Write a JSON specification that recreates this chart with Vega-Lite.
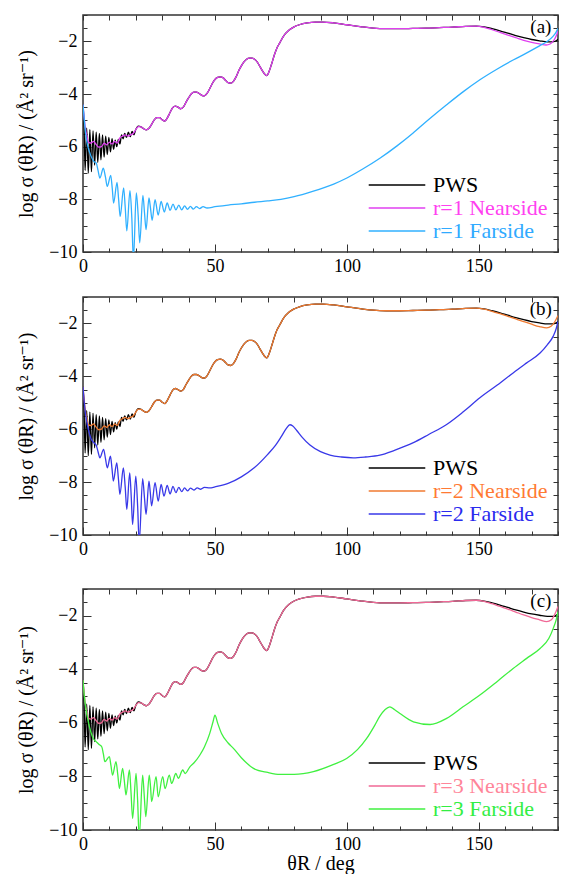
{
"$schema": "https://vega.github.io/schema/vega-lite/v6.json",
"background": "white",
"padding": {"left": 16, "top": 13, "right": 3, "bottom": 0},
"config": {
  "font": "Liberation Serif, Times New Roman, DejaVu Serif, serif",
  "view": {"stroke": "#333333", "strokeWidth": 1.5},
  "text": {"font": "Liberation Serif, Times New Roman, DejaVu Serif, serif"},
  "axis": {"labelFont": "Liberation Serif, Times New Roman, DejaVu Serif, serif", "labelFontSize": 18, "labelColor": "#000000", "titleFont": "Liberation Serif, Times New Roman, DejaVu Serif, serif", "titleFontSize": 20, "titleFontWeight": "normal", "titleColor": "#000000", "grid": false, "domain": false, "tickColor": "#333333", "tickWidth": 1, "labelFlush": false},
  "legend": {"orient": "bottom-right", "offset": 10, "symbolType": "M-4,0H4", "symbolSize": 200, "symbolStrokeWidth": 1.5, "labelFontSize": 22, "labelFont": "Liberation Serif, Times New Roman, DejaVu Serif, serif", "labelOffset": 25, "rowPadding": 1, "padding": 0, "labelLimit": 300}
},
"datasets": {
"pws": [{"t":0,"v":-4.4},{"t":0.4,"v":-5.2},{"t":0.8,"v":-6.9},{"t":1.4,"v":-5.3},{"t":2.0,"v":-7.0},{"t":2.6,"v":-5.35},{"t":3.2,"v":-6.95},{"t":3.8,"v":-5.4},{"t":4.4,"v":-6.7},{"t":5.0,"v":-5.45},{"t":5.6,"v":-6.6},{"t":6.2,"v":-5.5},{"t":6.8,"v":-6.5},{"t":7.4,"v":-5.55},{"t":8.0,"v":-6.4},{"t":8.6,"v":-5.6},{"t":9.2,"v":-6.3},{"t":9.8,"v":-5.65},{"t":10.4,"v":-6.2},{"t":11.0,"v":-5.7},{"t":11.6,"v":-6.1},{"t":12.2,"v":-5.75},{"t":12.8,"v":-6.0},{"t":13.4,"v":-5.72},{"t":14.0,"v":-5.9},{"t":14.6,"v":-5.55},{"t":15.2,"v":-5.7},{"t":15.8,"v":-5.5},{"t":16.5,"v":-5.65},{"t":17.2,"v":-5.45},{"t":17.9,"v":-5.62},{"t":18.6,"v":-5.42},{"t":19.3,"v":-5.55},{"t":20,"v":-5.35},{"t":21,"v":-5.22},{"t":22,"v":-5.25},{"t":23,"v":-5.32},{"t":24,"v":-5.36},{"t":25,"v":-5.3},{"t":26,"v":-5.15},{"t":27,"v":-4.98},{"t":28,"v":-4.9},{"t":29,"v":-4.9},{"t":30,"v":-4.98},{"t":31,"v":-5.03},{"t":32,"v":-4.9},{"t":33,"v":-4.7},{"t":34,"v":-4.52},{"t":35,"v":-4.46},{"t":36,"v":-4.5},{"t":37,"v":-4.56},{"t":38,"v":-4.5},{"t":39,"v":-4.32},{"t":40,"v":-4.15},{"t":41,"v":-4.0},{"t":42,"v":-3.93},{"t":43,"v":-3.93},{"t":44,"v":-3.98},{"t":45,"v":-4.05},{"t":46,"v":-4.07},{"t":47,"v":-3.98},{"t":48,"v":-3.8},{"t":49,"v":-3.6},{"t":50,"v":-3.45},{"t":51,"v":-3.37},{"t":52,"v":-3.35},{"t":53,"v":-3.38},{"t":54,"v":-3.48},{"t":55,"v":-3.57},{"t":56,"v":-3.59},{"t":57,"v":-3.52},{"t":58,"v":-3.35},{"t":59,"v":-3.12},{"t":60,"v":-2.93},{"t":61,"v":-2.78},{"t":62,"v":-2.68},{"t":63,"v":-2.64},{"t":64,"v":-2.64},{"t":65,"v":-2.68},{"t":66,"v":-2.78},{"t":67,"v":-2.95},{"t":68,"v":-3.12},{"t":69,"v":-3.26},{"t":69.7,"v":-3.3},{"t":70.5,"v":-3.15},{"t":71.5,"v":-2.85},{"t":72.5,"v":-2.52},{"t":73.5,"v":-2.25},{"t":74.6,"v":-2.05},{"t":76,"v":-1.8},{"t":78,"v":-1.58},{"t":80,"v":-1.45},{"t":82,"v":-1.37},{"t":85,"v":-1.3},{"t":88,"v":-1.27},{"t":91,"v":-1.27},{"t":95,"v":-1.3},{"t":100,"v":-1.37},{"t":105,"v":-1.44},{"t":110,"v":-1.5},{"t":115,"v":-1.52},{"t":120,"v":-1.52},{"t":125,"v":-1.51},{"t":130,"v":-1.5},{"t":135,"v":-1.48},{"t":140,"v":-1.46},{"t":145,"v":-1.43},{"t":149,"v":-1.42},{"t":152,"v":-1.45},{"t":155,"v":-1.52},{"t":158,"v":-1.6},{"t":161,"v":-1.69},{"t":164,"v":-1.78},{"t":167,"v":-1.86},{"t":170,"v":-1.93},{"t":173,"v":-1.98},{"t":176,"v":-2.02},{"t":178,"v":-2.02},{"t":179.3,"v":-1.98},{"t":180,"v":-1.92}],
"n1": [{"t":0,"v":-4.4},{"t":0.5,"v":-4.95},{"t":1,"v":-5.35},{"t":1.5,"v":-5.6},{"t":2,"v":-5.82},{"t":3,"v":-5.86},{"t":4,"v":-5.8},{"t":5,"v":-5.92},{"t":6,"v":-6.02},{"t":7,"v":-6.0},{"t":8,"v":-5.87},{"t":9,"v":-5.93},{"t":10,"v":-5.83},{"t":11,"v":-5.9},{"t":12,"v":-5.8},{"t":13,"v":-5.86},{"t":14,"v":-5.66},{"t":15,"v":-5.6},{"t":16,"v":-5.55},{"t":17,"v":-5.6},{"t":18,"v":-5.55},{"t":19,"v":-5.5},{"t":20,"v":-5.35},{"t":21,"v":-5.24},{"t":22,"v":-5.25},{"t":23,"v":-5.32},{"t":24,"v":-5.36},{"t":25,"v":-5.3},{"t":26,"v":-5.15},{"t":27,"v":-4.98},{"t":28,"v":-4.9},{"t":29,"v":-4.9},{"t":30,"v":-4.98},{"t":31,"v":-5.03},{"t":32,"v":-4.9},{"t":33,"v":-4.7},{"t":34,"v":-4.52},{"t":35,"v":-4.46},{"t":36,"v":-4.5},{"t":37,"v":-4.56},{"t":38,"v":-4.5},{"t":39,"v":-4.32},{"t":40,"v":-4.15},{"t":41,"v":-4.0},{"t":42,"v":-3.93},{"t":43,"v":-3.93},{"t":44,"v":-3.98},{"t":45,"v":-4.05},{"t":46,"v":-4.07},{"t":47,"v":-3.98},{"t":48,"v":-3.8},{"t":49,"v":-3.6},{"t":50,"v":-3.45},{"t":51,"v":-3.37},{"t":52,"v":-3.35},{"t":53,"v":-3.38},{"t":54,"v":-3.48},{"t":55,"v":-3.57},{"t":56,"v":-3.59},{"t":57,"v":-3.52},{"t":58,"v":-3.35},{"t":59,"v":-3.12},{"t":60,"v":-2.93},{"t":61,"v":-2.78},{"t":62,"v":-2.68},{"t":63,"v":-2.64},{"t":64,"v":-2.64},{"t":65,"v":-2.68},{"t":66,"v":-2.78},{"t":67,"v":-2.95},{"t":68,"v":-3.12},{"t":69,"v":-3.26},{"t":69.7,"v":-3.3},{"t":70.5,"v":-3.15},{"t":71.5,"v":-2.85},{"t":72.5,"v":-2.52},{"t":73.5,"v":-2.25},{"t":74.6,"v":-2.05},{"t":76,"v":-1.8},{"t":78,"v":-1.58},{"t":80,"v":-1.45},{"t":82,"v":-1.37},{"t":85,"v":-1.3},{"t":88,"v":-1.27},{"t":91,"v":-1.27},{"t":95,"v":-1.3},{"t":100,"v":-1.37},{"t":105,"v":-1.44},{"t":110,"v":-1.5},{"t":115,"v":-1.52},{"t":120,"v":-1.52},{"t":125,"v":-1.51},{"t":130,"v":-1.5},{"t":135,"v":-1.48},{"t":140,"v":-1.46},{"t":145,"v":-1.43},{"t":149,"v":-1.42},{"t":152,"v":-1.47},{"t":155,"v":-1.56},{"t":158,"v":-1.66},{"t":161,"v":-1.76},{"t":164,"v":-1.86},{"t":167,"v":-1.96},{"t":170,"v":-2.04},{"t":173,"v":-2.1},{"t":175.5,"v":-2.14},{"t":177,"v":-2.1},{"t":178.5,"v":-1.95},{"t":179.5,"v":-1.75},{"t":180,"v":-1.6}],
"f1": [{"t":0,"v":-4.4},{"t":0.5,"v":-5.0},{"t":1,"v":-5.5},{"t":1.5,"v":-5.85},{"t":2,"v":-6.05},{"t":3,"v":-6.35},{"t":4,"v":-6.55},{"t":5,"v":-6.62},{"t":5.7,"v":-6.9},{"t":6.4,"v":-7.19},{"t":7.7,"v":-6.82},{"t":8.5,"v":-7.15},{"t":9.2,"v":-7.51},{"t":10.5,"v":-7.09},{"t":11.1,"v":-7.6},{"t":11.6,"v":-8.14},{"t":12.9,"v":-7.36},{"t":13.5,"v":-8.0},{"t":14.1,"v":-8.65},{"t":15.4,"v":-7.57},{"t":16.0,"v":-8.3},{"t":16.6,"v":-9.2},{"t":17.8,"v":-7.67},{"t":18.5,"v":-8.7},{"t":19.1,"v":-10.3},{"t":20.2,"v":-7.76},{"t":20.9,"v":-8.6},{"t":21.5,"v":-9.65},{"t":22.7,"v":-7.85},{"t":23.3,"v":-8.5},{"t":23.9,"v":-9.15},{"t":25.0,"v":-7.95},{"t":25.6,"v":-8.35},{"t":26.2,"v":-8.8},{"t":27.3,"v":-8.01},{"t":28.5,"v":-8.6},{"t":29.6,"v":-8.08},{"t":30.8,"v":-8.48},{"t":31.9,"v":-8.14},{"t":33.0,"v":-8.42},{"t":34.1,"v":-8.18},{"t":35.2,"v":-8.4},{"t":36.3,"v":-8.22},{"t":37.4,"v":-8.4},{"t":38.5,"v":-8.25},{"t":39.6,"v":-8.38},{"t":40.7,"v":-8.27},{"t":41.8,"v":-8.37},{"t":43,"v":-8.28},{"t":44.2,"v":-8.35},{"t":45.5,"v":-8.28},{"t":47,"v":-8.33},{"t":50,"v":-8.28},{"t":55,"v":-8.22},{"t":60,"v":-8.17},{"t":65,"v":-8.11},{"t":70,"v":-8.06},{"t":75,"v":-8.0},{"t":80,"v":-7.9},{"t":87,"v":-7.7},{"t":95,"v":-7.42},{"t":100,"v":-7.19},{"t":106,"v":-6.85},{"t":112.5,"v":-6.44},{"t":119,"v":-5.97},{"t":125,"v":-5.49},{"t":131,"v":-4.97},{"t":137.8,"v":-4.41},{"t":144,"v":-3.92},{"t":150.4,"v":-3.46},{"t":157,"v":-3.05},{"t":163,"v":-2.71},{"t":168,"v":-2.45},{"t":173,"v":-2.17},{"t":176,"v":-2.0},{"t":178,"v":-1.82},{"t":179.3,"v":-1.65},{"t":180,"v":-1.5}],
"n2": [{"t":0,"v":-4.4},{"t":0.5,"v":-4.95},{"t":1,"v":-5.35},{"t":1.5,"v":-5.6},{"t":2,"v":-5.82},{"t":3,"v":-5.86},{"t":4,"v":-5.8},{"t":5,"v":-5.92},{"t":6,"v":-6.02},{"t":7,"v":-6.0},{"t":8,"v":-5.87},{"t":9,"v":-5.93},{"t":10,"v":-5.83},{"t":11,"v":-5.9},{"t":12,"v":-5.8},{"t":13,"v":-5.86},{"t":14,"v":-5.66},{"t":15,"v":-5.6},{"t":16,"v":-5.55},{"t":17,"v":-5.6},{"t":18,"v":-5.55},{"t":19,"v":-5.5},{"t":20,"v":-5.35},{"t":21,"v":-5.24},{"t":22,"v":-5.25},{"t":23,"v":-5.32},{"t":24,"v":-5.36},{"t":25,"v":-5.3},{"t":26,"v":-5.15},{"t":27,"v":-4.98},{"t":28,"v":-4.9},{"t":29,"v":-4.9},{"t":30,"v":-4.98},{"t":31,"v":-5.03},{"t":32,"v":-4.9},{"t":33,"v":-4.7},{"t":34,"v":-4.52},{"t":35,"v":-4.46},{"t":36,"v":-4.5},{"t":37,"v":-4.56},{"t":38,"v":-4.5},{"t":39,"v":-4.32},{"t":40,"v":-4.15},{"t":41,"v":-4.0},{"t":42,"v":-3.93},{"t":43,"v":-3.93},{"t":44,"v":-3.98},{"t":45,"v":-4.05},{"t":46,"v":-4.07},{"t":47,"v":-3.98},{"t":48,"v":-3.8},{"t":49,"v":-3.6},{"t":50,"v":-3.45},{"t":51,"v":-3.37},{"t":52,"v":-3.35},{"t":53,"v":-3.38},{"t":54,"v":-3.48},{"t":55,"v":-3.57},{"t":56,"v":-3.59},{"t":57,"v":-3.52},{"t":58,"v":-3.35},{"t":59,"v":-3.12},{"t":60,"v":-2.93},{"t":61,"v":-2.78},{"t":62,"v":-2.68},{"t":63,"v":-2.64},{"t":64,"v":-2.64},{"t":65,"v":-2.68},{"t":66,"v":-2.78},{"t":67,"v":-2.95},{"t":68,"v":-3.12},{"t":69,"v":-3.26},{"t":69.7,"v":-3.3},{"t":70.5,"v":-3.15},{"t":71.5,"v":-2.85},{"t":72.5,"v":-2.52},{"t":73.5,"v":-2.25},{"t":74.6,"v":-2.05},{"t":76,"v":-1.8},{"t":78,"v":-1.58},{"t":80,"v":-1.45},{"t":82,"v":-1.37},{"t":85,"v":-1.3},{"t":88,"v":-1.27},{"t":91,"v":-1.27},{"t":95,"v":-1.3},{"t":100,"v":-1.37},{"t":105,"v":-1.44},{"t":110,"v":-1.5},{"t":115,"v":-1.52},{"t":120,"v":-1.52},{"t":125,"v":-1.51},{"t":130,"v":-1.5},{"t":135,"v":-1.48},{"t":140,"v":-1.46},{"t":145,"v":-1.43},{"t":149,"v":-1.42},{"t":152,"v":-1.46},{"t":155,"v":-1.54},{"t":158,"v":-1.63},{"t":161,"v":-1.73},{"t":164,"v":-1.83},{"t":167,"v":-1.93},{"t":170,"v":-2.03},{"t":173,"v":-2.12},{"t":175.7,"v":-2.17},{"t":177.5,"v":-2.1},{"t":179,"v":-1.9},{"t":180,"v":-1.7}],
"f2": [{"t":0,"v":-4.4},{"t":0.5,"v":-5.0},{"t":1,"v":-5.45},{"t":2,"v":-6.0},{"t":3,"v":-6.35},{"t":4,"v":-6.5},{"t":5,"v":-6.6},{"t":5.7,"v":-6.85},{"t":6.4,"v":-7.08},{"t":7.8,"v":-6.76},{"t":8.5,"v":-7.1},{"t":9.2,"v":-7.46},{"t":10.4,"v":-7.02},{"t":11.0,"v":-7.5},{"t":11.5,"v":-7.96},{"t":12.8,"v":-7.27},{"t":13.4,"v":-7.85},{"t":14.0,"v":-8.46},{"t":15.3,"v":-7.46},{"t":16.0,"v":-8.2},{"t":16.6,"v":-9.03},{"t":17.7,"v":-7.65},{"t":18.3,"v":-8.6},{"t":18.8,"v":-9.6},{"t":20.0,"v":-7.77},{"t":20.7,"v":-8.9},{"t":21.3,"v":-10.3},{"t":22.6,"v":-7.87},{"t":23.3,"v":-8.6},{"t":23.9,"v":-9.22},{"t":25.0,"v":-7.96},{"t":25.5,"v":-8.4},{"t":26.0,"v":-8.9},{"t":27.3,"v":-8.02},{"t":28.5,"v":-8.72},{"t":29.6,"v":-8.09},{"t":30.7,"v":-8.53},{"t":31.9,"v":-8.12},{"t":33.0,"v":-8.45},{"t":34.1,"v":-8.16},{"t":35.2,"v":-8.4},{"t":36.3,"v":-8.2},{"t":37.4,"v":-8.36},{"t":38.5,"v":-8.22},{"t":39.6,"v":-8.33},{"t":40.7,"v":-8.23},{"t":42,"v":-8.3},{"t":43.3,"v":-8.22},{"t":44.6,"v":-8.27},{"t":46,"v":-8.2},{"t":48,"v":-8.22},{"t":50,"v":-8.18},{"t":55,"v":-8.05},{"t":60,"v":-7.8},{"t":65,"v":-7.45},{"t":70,"v":-6.95},{"t":73,"v":-6.6},{"t":75,"v":-6.3},{"t":77,"v":-5.98},{"t":78.4,"v":-5.83},{"t":79.5,"v":-5.88},{"t":81,"v":-6.05},{"t":83,"v":-6.3},{"t":86,"v":-6.6},{"t":90,"v":-6.85},{"t":93.6,"v":-6.98},{"t":98,"v":-7.05},{"t":102.4,"v":-7.08},{"t":107,"v":-7.05},{"t":112.5,"v":-6.98},{"t":118,"v":-6.8},{"t":125.2,"v":-6.51},{"t":131,"v":-6.2},{"t":137.8,"v":-5.82},{"t":144,"v":-5.35},{"t":150.4,"v":-4.81},{"t":157,"v":-4.33},{"t":163,"v":-3.87},{"t":168,"v":-3.5},{"t":173.2,"v":-3.12},{"t":176,"v":-2.8},{"t":178.2,"v":-2.48},{"t":179.3,"v":-2.2},{"t":180,"v":-1.92}],
"n3": [{"t":0,"v":-4.4},{"t":0.5,"v":-4.95},{"t":1,"v":-5.35},{"t":1.5,"v":-5.6},{"t":2,"v":-5.82},{"t":3,"v":-5.86},{"t":4,"v":-5.8},{"t":5,"v":-5.92},{"t":6,"v":-6.02},{"t":7,"v":-6.0},{"t":8,"v":-5.87},{"t":9,"v":-5.93},{"t":10,"v":-5.83},{"t":11,"v":-5.9},{"t":12,"v":-5.8},{"t":13,"v":-5.86},{"t":14,"v":-5.66},{"t":15,"v":-5.6},{"t":16,"v":-5.55},{"t":17,"v":-5.6},{"t":18,"v":-5.55},{"t":19,"v":-5.5},{"t":20,"v":-5.35},{"t":21,"v":-5.24},{"t":22,"v":-5.25},{"t":23,"v":-5.32},{"t":24,"v":-5.36},{"t":25,"v":-5.3},{"t":26,"v":-5.15},{"t":27,"v":-4.98},{"t":28,"v":-4.9},{"t":29,"v":-4.9},{"t":30,"v":-4.98},{"t":31,"v":-5.03},{"t":32,"v":-4.9},{"t":33,"v":-4.7},{"t":34,"v":-4.52},{"t":35,"v":-4.46},{"t":36,"v":-4.5},{"t":37,"v":-4.56},{"t":38,"v":-4.5},{"t":39,"v":-4.32},{"t":40,"v":-4.15},{"t":41,"v":-4.0},{"t":42,"v":-3.93},{"t":43,"v":-3.93},{"t":44,"v":-3.98},{"t":45,"v":-4.05},{"t":46,"v":-4.07},{"t":47,"v":-3.98},{"t":48,"v":-3.8},{"t":49,"v":-3.6},{"t":50,"v":-3.45},{"t":51,"v":-3.37},{"t":52,"v":-3.35},{"t":53,"v":-3.38},{"t":54,"v":-3.48},{"t":55,"v":-3.57},{"t":56,"v":-3.59},{"t":57,"v":-3.52},{"t":58,"v":-3.35},{"t":59,"v":-3.12},{"t":60,"v":-2.93},{"t":61,"v":-2.78},{"t":62,"v":-2.68},{"t":63,"v":-2.64},{"t":64,"v":-2.64},{"t":65,"v":-2.68},{"t":66,"v":-2.78},{"t":67,"v":-2.95},{"t":68,"v":-3.12},{"t":69,"v":-3.26},{"t":69.7,"v":-3.3},{"t":70.5,"v":-3.15},{"t":71.5,"v":-2.85},{"t":72.5,"v":-2.52},{"t":73.5,"v":-2.25},{"t":74.6,"v":-2.05},{"t":76,"v":-1.8},{"t":78,"v":-1.58},{"t":80,"v":-1.45},{"t":82,"v":-1.37},{"t":85,"v":-1.3},{"t":88,"v":-1.27},{"t":91,"v":-1.27},{"t":95,"v":-1.3},{"t":100,"v":-1.37},{"t":105,"v":-1.44},{"t":110,"v":-1.5},{"t":115,"v":-1.52},{"t":120,"v":-1.52},{"t":125,"v":-1.51},{"t":130,"v":-1.5},{"t":135,"v":-1.48},{"t":140,"v":-1.46},{"t":145,"v":-1.43},{"t":149,"v":-1.42},{"t":152,"v":-1.46},{"t":155,"v":-1.55},{"t":158,"v":-1.65},{"t":161,"v":-1.75},{"t":164,"v":-1.86},{"t":167,"v":-1.97},{"t":170,"v":-2.07},{"t":173,"v":-2.15},{"t":175.7,"v":-2.22},{"t":177.5,"v":-2.15},{"t":179,"v":-1.9},{"t":180,"v":-1.65}],
"f3": [{"t":0,"v":-4.4},{"t":0.5,"v":-5.0},{"t":1,"v":-5.4},{"t":2,"v":-5.95},{"t":3,"v":-6.35},{"t":4,"v":-6.6},{"t":5,"v":-6.7},{"t":6,"v":-6.8},{"t":7.1,"v":-6.89},{"t":7.7,"v":-7.15},{"t":8.3,"v":-7.45},{"t":10.0,"v":-7.26},{"t":10.6,"v":-7.6},{"t":11.2,"v":-7.95},{"t":12.5,"v":-7.45},{"t":13.2,"v":-7.95},{"t":13.8,"v":-8.45},{"t":15.0,"v":-7.7},{"t":15.7,"v":-8.2},{"t":16.3,"v":-8.69},{"t":17.6,"v":-7.76},{"t":18.2,"v":-8.6},{"t":18.8,"v":-9.57},{"t":20.1,"v":-7.89},{"t":20.7,"v":-8.9},{"t":21.3,"v":-10.3},{"t":22.6,"v":-7.95},{"t":23.2,"v":-8.7},{"t":23.8,"v":-9.5},{"t":25.1,"v":-7.95},{"t":25.6,"v":-8.4},{"t":26.0,"v":-8.94},{"t":27.7,"v":-8.01},{"t":28.5,"v":-8.76},{"t":30.2,"v":-8.01},{"t":31.1,"v":-8.45},{"t":32.7,"v":-7.95},{"t":33.6,"v":-8.26},{"t":35.2,"v":-7.89},{"t":36.1,"v":-8.07},{"t":37.8,"v":-7.76},{"t":38.7,"v":-7.89},{"t":40.5,"v":-7.64},{"t":42,"v":-7.5},{"t":44.3,"v":-7.2},{"t":46,"v":-6.9},{"t":48,"v":-6.4},{"t":49.3,"v":-5.95},{"t":50,"v":-5.71},{"t":51,"v":-6.0},{"t":52.5,"v":-6.4},{"t":55,"v":-6.75},{"t":57,"v":-6.95},{"t":60,"v":-7.3},{"t":64.6,"v":-7.7},{"t":70,"v":-7.85},{"t":74.6,"v":-7.92},{"t":80,"v":-7.92},{"t":87.3,"v":-7.82},{"t":95,"v":-7.55},{"t":99.9,"v":-7.33},{"t":104,"v":-7.0},{"t":107.5,"v":-6.58},{"t":110.5,"v":-6.1},{"t":112.5,"v":-5.75},{"t":114.5,"v":-5.5},{"t":116.3,"v":-5.4},{"t":118,"v":-5.5},{"t":120.1,"v":-5.65},{"t":125.2,"v":-5.96},{"t":131.5,"v":-6.06},{"t":137.8,"v":-5.83},{"t":144,"v":-5.4},{"t":150.4,"v":-4.96},{"t":157,"v":-4.45},{"t":163,"v":-3.97},{"t":168,"v":-3.6},{"t":173.2,"v":-3.22},{"t":176.5,"v":-2.85},{"t":178.2,"v":-2.47},{"t":179.3,"v":-2.15},{"t":180,"v":-1.85}]
},
"spacing": 28,
"resolve": {"scale": {"color": "independent"}, "legend": {"color": "independent"}},
"vconcat": [
 {
  "spacing": 19,
  "resolve": {"scale": {"color": "independent"}, "legend": {"color": "independent"}},
  "vconcat": [
   {
    "width": 475, "height": 237,
    "resolve": {"axis": {"x": "independent", "y": "independent"}},
    "layer": [
     {"data": {"name": "pws"}, "mark": {"type": "line", "clip": true, "strokeWidth": 1.3, "interpolate": "monotone"},
      "encoding": {
       "x": {"field": "t", "type": "quantitative", "scale": {"domain": [0, 180], "nice": false, "zero": false}, "axis": {"orient": "bottom", "values": [0, 50, 100, 150], "ticks": false, "tickSize": 0, "labelPadding": 5, "title": null}},
       "y": {"field": "v", "type": "quantitative", "scale": {"domain": [-10, -1], "nice": false, "zero": false}, "axis": {"orient": "left", "values": [-10, -8, -6, -4, -2], "ticks": false, "tickSize": 0, "labelPadding": 6, "title": "log σ (θR) / (Å² sr⁻¹)", "titlePadding": 12}},
       "color": {"datum": "PWS", "type": "nominal", "scale": {"domain": ["PWS", "r=1 Nearside", "r=1 Farside"], "range": ["#000000", "#e040f0", "#30b0ff"]},
        "legend": {"title": null, "encode": {"labels": {"update": {"fill": {"signal": "datum.value === 'PWS' ? '#000000' : (indexof(datum.value, 'Near') >= 0 ? '#ff40f0' : '#30aaff')"}}}}}}
      }},
     {"data": {"name": "n1"}, "mark": {"type": "line", "clip": true, "strokeWidth": 1.3, "interpolate": "monotone"},
      "encoding": {
       "x": {"field": "t", "type": "quantitative", "axis": {"orient": "bottom", "values": [0,10,20,30,40,50,60,70,80,90,100,110,120,130,140,150,160,170,180], "labels": false, "tickSize": -4, "title": null}},
       "y": {"field": "v", "type": "quantitative", "axis": {"orient": "left", "values": [-10,-9.5,-9,-8.5,-8,-7.5,-7,-6.5,-6,-5.5,-5,-4.5,-4,-3.5,-3,-2.5,-2,-1.5,-1], "labels": false, "tickSize": -4, "title": null}},
       "color": {"datum": "r=1 Nearside", "type": "nominal"}
      }},
     {"data": {"name": "f1"}, "mark": {"type": "line", "clip": true, "strokeWidth": 1.3, "interpolate": "monotone"},
      "encoding": {
       "x": {"field": "t", "type": "quantitative", "axis": {"orient": "bottom", "values": [0, 50, 100, 150], "labels": false, "tickSize": -8, "title": null}},
       "y": {"field": "v", "type": "quantitative", "axis": {"orient": "left", "values": [-10, -8, -6, -4, -2], "labels": false, "tickSize": -8, "title": null}},
       "color": {"datum": "r=1 Farside", "type": "nominal"}
      }},
     {"data": {"values": [{"label": "(a)"}]}, "mark": {"type": "text", "fontSize": 19, "color": "#000000"},
      "encoding": {
       "text": {"field": "label"},
       "x": {"datum": 173.5, "type": "quantitative", "axis": {"orient": "top", "values": [0,10,20,30,40,50,60,70,80,90,100,110,120,130,140,150,160,170,180], "labels": false, "tickSize": -5, "title": null}},
       "y": {"datum": -1.45, "type": "quantitative", "axis": {"orient": "right", "values": [-10,-9.5,-9,-8.5,-8,-7.5,-7,-6.5,-6,-5.5,-5,-4.5,-4,-3.5,-3,-2.5,-2,-1.5,-1], "labels": false, "tickSize": -5, "title": null}}
      }}
    ]
   },
   {
    "width": 475, "height": 238,
    "resolve": {"axis": {"x": "independent", "y": "independent"}},
    "layer": [
     {"data": {"name": "pws"}, "mark": {"type": "line", "clip": true, "strokeWidth": 1.3, "interpolate": "monotone"},
      "encoding": {
       "x": {"field": "t", "type": "quantitative", "scale": {"domain": [0, 180], "nice": false, "zero": false}, "axis": {"orient": "bottom", "values": [0, 50, 100, 150], "ticks": false, "tickSize": 0, "labelPadding": 5, "title": null}},
       "y": {"field": "v", "type": "quantitative", "scale": {"domain": [-10, -1], "nice": false, "zero": false}, "axis": {"orient": "left", "values": [-10, -8, -6, -4, -2], "ticks": false, "tickSize": 0, "labelPadding": 6, "title": "log σ (θR) / (Å² sr⁻¹)", "titlePadding": 12}},
       "color": {"datum": "PWS", "type": "nominal", "scale": {"domain": ["PWS", "r=2 Nearside", "r=2 Farside"], "range": ["#000000", "#f07a30", "#3838e8"]},
        "legend": {"title": null, "encode": {"labels": {"update": {"fill": {"signal": "datum.value === 'PWS' ? '#000000' : (indexof(datum.value, 'Near') >= 0 ? '#ff7a33' : '#2a2aee')"}}}}}}
      }},
     {"data": {"name": "n2"}, "mark": {"type": "line", "clip": true, "strokeWidth": 1.3, "interpolate": "monotone"},
      "encoding": {
       "x": {"field": "t", "type": "quantitative", "axis": {"orient": "bottom", "values": [0,10,20,30,40,50,60,70,80,90,100,110,120,130,140,150,160,170,180], "labels": false, "tickSize": -4, "title": null}},
       "y": {"field": "v", "type": "quantitative", "axis": {"orient": "left", "values": [-10,-9.5,-9,-8.5,-8,-7.5,-7,-6.5,-6,-5.5,-5,-4.5,-4,-3.5,-3,-2.5,-2,-1.5,-1], "labels": false, "tickSize": -4, "title": null}},
       "color": {"datum": "r=2 Nearside", "type": "nominal"}
      }},
     {"data": {"name": "f2"}, "mark": {"type": "line", "clip": true, "strokeWidth": 1.3, "interpolate": "monotone"},
      "encoding": {
       "x": {"field": "t", "type": "quantitative", "axis": {"orient": "bottom", "values": [0, 50, 100, 150], "labels": false, "tickSize": -8, "title": null}},
       "y": {"field": "v", "type": "quantitative", "axis": {"orient": "left", "values": [-10, -8, -6, -4, -2], "labels": false, "tickSize": -8, "title": null}},
       "color": {"datum": "r=2 Farside", "type": "nominal"}
      }},
     {"data": {"values": [{"label": "(b)"}]}, "mark": {"type": "text", "fontSize": 19, "color": "#000000"},
      "encoding": {
       "text": {"field": "label"},
       "x": {"datum": 173.5, "type": "quantitative", "axis": {"orient": "top", "values": [0,10,20,30,40,50,60,70,80,90,100,110,120,130,140,150,160,170,180], "labels": false, "tickSize": -5, "title": null}},
       "y": {"datum": -1.45, "type": "quantitative", "axis": {"orient": "right", "values": [-10,-9.5,-9,-8.5,-8,-7.5,-7,-6.5,-6,-5.5,-5,-4.5,-4,-3.5,-3,-2.5,-2,-1.5,-1], "labels": false, "tickSize": -5, "title": null}}
      }}
    ]
   }
  ]
 },
 {
  "width": 475, "height": 241,
  "resolve": {"axis": {"x": "independent", "y": "independent"}},
  "layer": [
   {"data": {"name": "pws"}, "mark": {"type": "line", "clip": true, "strokeWidth": 1.3, "interpolate": "monotone"},
    "encoding": {
     "x": {"field": "t", "type": "quantitative", "scale": {"domain": [0, 180], "nice": false, "zero": false}, "axis": {"orient": "bottom", "values": [0, 50, 100, 150], "ticks": false, "tickSize": 0, "labelPadding": 5, "title": "θR / deg", "titleFontSize": 20, "titlePadding": 0}},
     "y": {"field": "v", "type": "quantitative", "scale": {"domain": [-10, -1], "nice": false, "zero": false}, "axis": {"orient": "left", "values": [-10, -8, -6, -4, -2], "ticks": false, "tickSize": 0, "labelPadding": 6, "title": "log σ (θR) / (Å² sr⁻¹)", "titlePadding": 12}},
     "color": {"datum": "PWS", "type": "nominal", "scale": {"domain": ["PWS", "r=3 Nearside", "r=3 Farside"], "range": ["#000000", "#f06896", "#40f040"]},
      "legend": {"title": null, "encode": {"labels": {"update": {"fill": {"signal": "datum.value === 'PWS' ? '#000000' : (indexof(datum.value, 'Near') >= 0 ? '#ff8599' : '#33ee44')"}}}}}}
    }},
   {"data": {"name": "n3"}, "mark": {"type": "line", "clip": true, "strokeWidth": 1.3, "interpolate": "monotone"},
    "encoding": {
     "x": {"field": "t", "type": "quantitative", "axis": {"orient": "bottom", "values": [0,10,20,30,40,50,60,70,80,90,100,110,120,130,140,150,160,170,180], "labels": false, "tickSize": -4, "title": null}},
     "y": {"field": "v", "type": "quantitative", "axis": {"orient": "left", "values": [-10,-9.5,-9,-8.5,-8,-7.5,-7,-6.5,-6,-5.5,-5,-4.5,-4,-3.5,-3,-2.5,-2,-1.5,-1], "labels": false, "tickSize": -4, "title": null}},
     "color": {"datum": "r=3 Nearside", "type": "nominal"}
    }},
   {"data": {"name": "f3"}, "mark": {"type": "line", "clip": true, "strokeWidth": 1.3, "interpolate": "monotone"},
    "encoding": {
     "x": {"field": "t", "type": "quantitative", "axis": {"orient": "bottom", "values": [0, 50, 100, 150], "labels": false, "tickSize": -8, "title": null}},
     "y": {"field": "v", "type": "quantitative", "axis": {"orient": "left", "values": [-10, -8, -6, -4, -2], "labels": false, "tickSize": -8, "title": null}},
     "color": {"datum": "r=3 Farside", "type": "nominal"}
    }},
   {"data": {"values": [{"label": "(c)"}]}, "mark": {"type": "text", "fontSize": 19, "color": "#000000"},
    "encoding": {
     "text": {"field": "label"},
     "x": {"datum": 173.5, "type": "quantitative", "axis": {"orient": "top", "values": [0,10,20,30,40,50,60,70,80,90,100,110,120,130,140,150,160,170,180], "labels": false, "tickSize": -5, "title": null}},
     "y": {"datum": -1.45, "type": "quantitative", "axis": {"orient": "right", "values": [-10,-9.5,-9,-8.5,-8,-7.5,-7,-6.5,-6,-5.5,-5,-4.5,-4,-3.5,-3,-2.5,-2,-1.5,-1], "labels": false, "tickSize": -5, "title": null}}
    }}
  ]
 }
]
}
